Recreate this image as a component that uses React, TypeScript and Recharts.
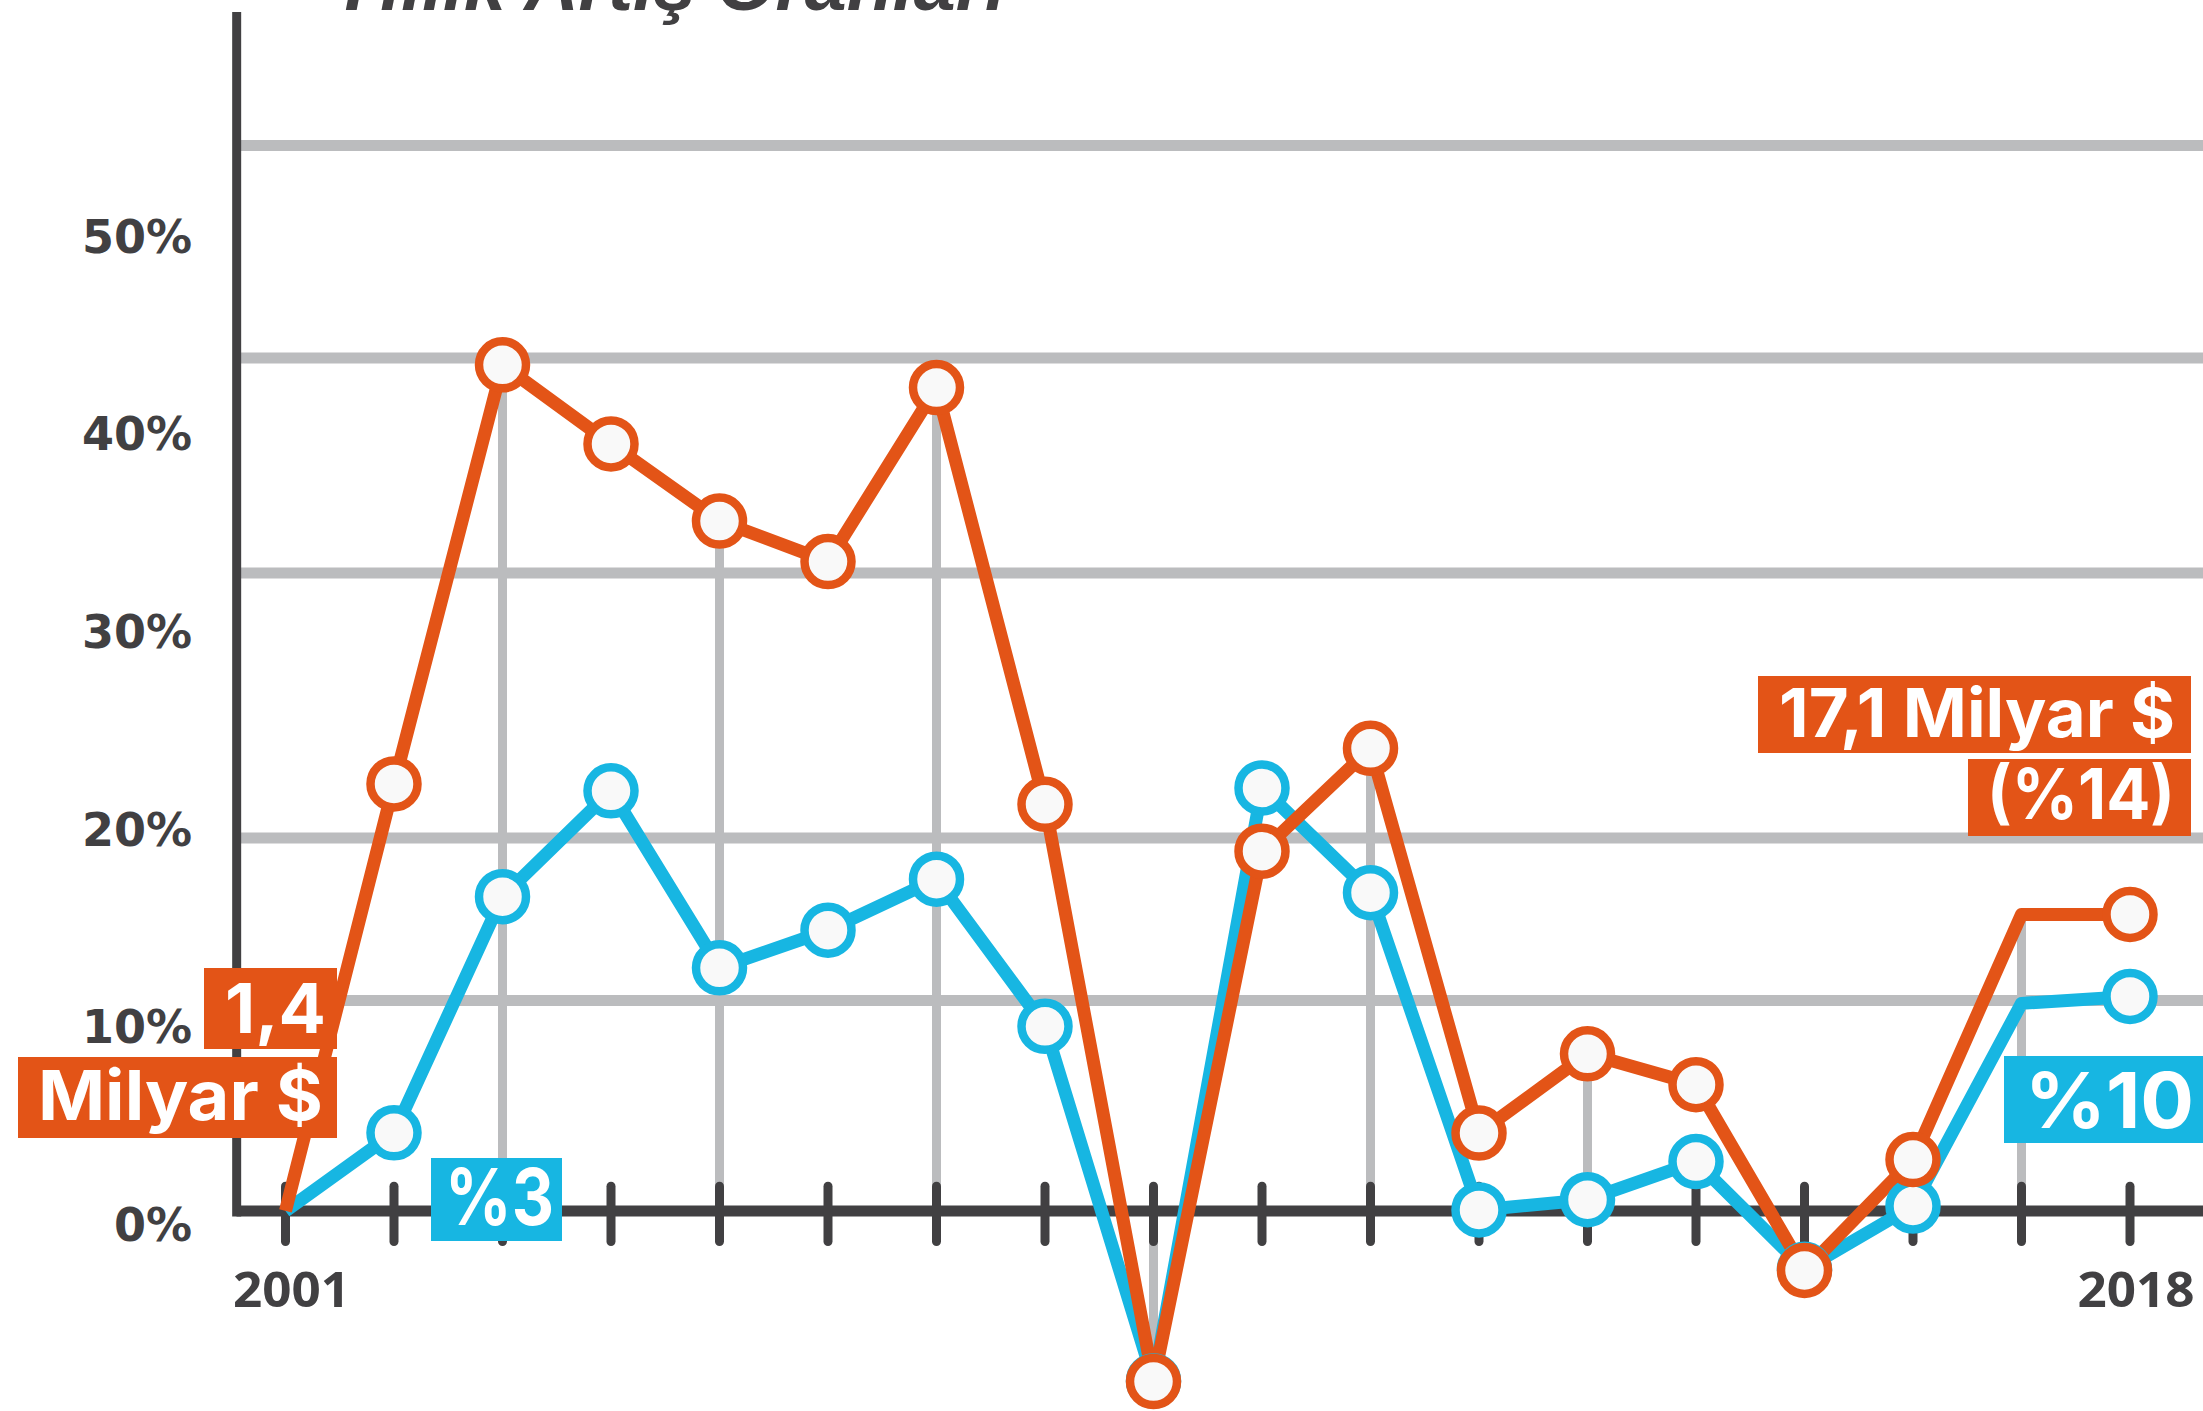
import React from 'react';
import { LineChart, Line, XAxis, YAxis, ReferenceLine, ReferenceDot } from 'recharts';

// ---- data ----
const years = [2001, 2002, 2003, 2004, 2005, 2006, 2007, 2008, 2009, 2010, 2011, 2012, 2013, 2014, 2015, 2016, 2017, 2018];
const orangeGrowth = [0, 21.6, 42.8, 38.8, 34.9, 32.85, 41.65, 20.57, -8.63, 18.2, 23.4, 3.94, 7.95, 6.39, -3.01, 2.6, 15.0, 15.0];
const blueGrowth = [0, 3.95, 15.9, 21.25, 12.3, 14.2, 16.78, 9.34, -8.6, 21.4, 16.1, 0.05, 0.57, 2.5, -2.95, 0.25, 10.5, 10.85];
const yTicks = [0, 10, 20, 30, 40, 50];
const gridValues = [53.9, 43.15, 32.27, 18.87, 10.65];
const dropYears = [2003, 2005, 2007, 2009, 2011, 2013, 2017];
const hiddenMarkerYears = [2001, 2017];
const edgeYearLabels = [2001, 2018];
const titleText = 'Yıllık Artış Oranları';

const ORANGE = '#E35417';
const BLUE = '#17B6E2';
const GRID = '#BBBCBE';
const DARK = '#414042';
const MARKER_FILL = '#F9F9F9';

const data = years.map((year, i) => ({ year, orange: orangeGrowth[i], blue: blueGrowth[i] }));

const makeDot = (color: string) => (props: any) => {
  const { cx, cy, payload, index } = props;
  if (hiddenMarkerYears.includes(payload.year) || cx == null || cy == null) {
    return <g key={`d-${index}`} />;
  }
  return (
    <circle key={`d-${index}`} cx={cx} cy={cy} r={23.5} fill={MARKER_FILL} stroke={color} strokeWidth={8.5} />
  );
};

const YTick = (props: any) => {
  const { x, y, payload } = props;
  return (
    <text x={x} y={y + 30} textAnchor="end" fontFamily="DejaVu Sans" fontWeight={700} fontSize={46} fill={DARK}>
      {`${payload.value}%`}
    </text>
  );
};

const YearLabel = (year: number) => (props: any) => (
  <text x={props.cx + 6} y={props.cy + 17} textAnchor="middle" fontFamily="Open Sans" fontWeight={700} fontSize={48} fill={DARK} textLength={117} lengthAdjust="spacingAndGlyphs">
    {String(year)}
  </text>
);

const boxText = { fontFamily: 'Inter', fontWeight: 700, fill: '#FFFFFF' } as const;

export default function App() {
  return (
    <div style={{ position: 'absolute', left: 0, top: 0, width: 2203, height: 1411, background: '#FFFFFF', overflow: 'hidden' }}>
      <LineChart width={2203} height={1411} data={data} margin={{ top: 12, right: 0, bottom: 0, left: 0 }}>
        <XAxis dataKey="year" type="number" domain={[2001, 2018]} padding={{ left: 49, right: 73 }} hide />
        <YAxis
          type="number"
          domain={[-10.12, 60.65]}
          allowDataOverflow
          ticks={yTicks}
          width={236.5}
          axisLine={false}
          tickLine={false}
          tickSize={0}
          tickMargin={44.5}
          tick={<YTick />}
          interval={0}
        />
        {gridValues.map((v) => (
          <ReferenceLine key={`g-${v}`} y={v} stroke={GRID} strokeWidth={11} ifOverflow="visible" />
        ))}
        {dropYears.map((yr) => (
          <ReferenceLine
            key={`v-${yr}`}
            segment={[{ x: yr, y: 0 }, { x: yr, y: orangeGrowth[years.indexOf(yr)] }]}
            stroke={GRID}
            strokeWidth={9}
            ifOverflow="visible"
          />
        ))}
        <ReferenceLine y={0} stroke={DARK} strokeWidth={11} ifOverflow="visible" />
        <ReferenceLine
          segment={[{ x: 2000.55, y: -0.28 }, { x: 2000.55, y: 60.65 }]}
          stroke={DARK}
          strokeWidth={9}
          ifOverflow="visible"
        />
        {years.map((yr) => (
          <ReferenceLine
            key={`t-${yr}`}
            segment={[{ x: yr, y: 1.25 }, { x: yr, y: -1.55 }]}
            stroke={DARK}
            strokeWidth={9}
            strokeLinecap="round"
            ifOverflow="visible"
          />
        ))}
        {edgeYearLabels.map((yr) => (
          <ReferenceDot key={`yl-${yr}`} x={yr} y={-4.0} r={0} ifOverflow="visible" shape={YearLabel(yr)} />
        ))}
        <Line
          type="linear"
          dataKey="blue"
          stroke={BLUE}
          strokeWidth={13}
          strokeLinejoin="round"
          dot={makeDot(BLUE)}
          activeDot={false}
          isAnimationActive={false}
        />
        <Line
          type="linear"
          dataKey="orange"
          stroke={ORANGE}
          strokeWidth={13}
          strokeLinejoin="round"
          dot={makeDot(ORANGE)}
          activeDot={false}
          isAnimationActive={false}
        />
      </LineChart>
      <svg width={2203} height={1411} style={{ position: 'absolute', left: 0, top: 0, pointerEvents: 'none' }}>
        <text x={330} y={10} fontFamily="Liberation Sans" fontStyle="italic" fontWeight={700} fontSize={75} fill={DARK} textLength={676} lengthAdjust="spacingAndGlyphs">
          {titleText}
        </text>

        <rect x={204} y={968} width={133} height={81} fill={ORANGE} />
        <text x={326} y={1033} textAnchor="end" fontSize={69} textLength={101} lengthAdjust="spacingAndGlyphs" {...boxText}>1,4</text>
        <rect x={18} y={1057} width={319} height={81} fill={ORANGE} />
        <text x={323} y={1120} textAnchor="end" fontSize={69} textLength={285} lengthAdjust="spacingAndGlyphs" {...boxText}>Milyar $</text>

        <rect x={431} y={1158} width={131} height={83} fill={BLUE} />
        <text x={554} y={1225} textAnchor="end" fontSize={78} textLength={109} lengthAdjust="spacingAndGlyphs" {...boxText}>%3</text>

        <rect x={1758} y={676} width={433} height={77} fill={ORANGE} />
        <text x={2175} y={737} textAnchor="end" fontSize={67} textLength={396} lengthAdjust="spacingAndGlyphs" {...boxText}>17,1 Milyar $</text>
        <rect x={1968} y={759} width={223} height={77} fill={ORANGE} />
        <text x={2175} y={819} textAnchor="end" fontSize={70} textLength={188} lengthAdjust="spacingAndGlyphs" {...boxText}>(%14)</text>

        <rect x={2004} y={1056} width={199} height={87} fill={BLUE} />
        <text x={2194} y={1128} textAnchor="end" fontSize={77} textLength={169} lengthAdjust="spacingAndGlyphs" {...boxText}>%10</text>
      </svg>
    </div>
  );
}
